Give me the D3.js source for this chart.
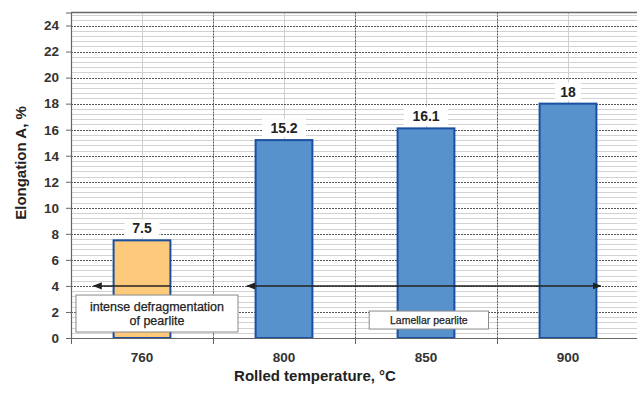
<!DOCTYPE html>
<html><head><meta charset="utf-8">
<script src="https://cdn.jsdelivr.net/npm/d3@7"></script>
<style>
html,body{margin:0;padding:0;background:#fff;}
svg{display:block;font-family:"Liberation Sans",Arial,sans-serif;}
</style></head>
<body><svg id="c" width="637" height="397"></svg>
<script>
const categories = ["760","800","850","900"];
const values = [7.5, 15.2, 16.1, 18];
const barColors = ["#FDC97A","#5792CD","#5792CD","#5792CD"];
const yTicks = [0,2,4,6,8,10,12,14,16,18,20,22,24];
const yTitle = "Elongation A, %";
const xTitle = "Rolled temperature, °C";
const annotationTexts = [["intense defragmentation","of pearlite"],["Lamellar pearlite"]];
const arrowLevel = 4;

const svg = d3.select("#c");
const L = 71, R = 639, T = 12.5, B = 338;
const x = d3.scaleBand().domain(categories).range([L, R]).paddingInner(0).paddingOuter(0);
const xi = d3.scaleLinear().domain([-0.5, categories.length - 0.5]).range([L, R]);
const y = d3.scaleLinear().domain([0, 25]).range([B, T]);
const barW = x.bandwidth() * 0.4;

// minor horizontal grid
const minor = d3.range(0, 25.01, 0.4).filter(v => Math.abs(v/2 - Math.round(v/2)) > 1e-6);
svg.append("g").selectAll("line").data(minor).join("line")
  .attr("x1", L).attr("x2", R).attr("y1", d => Math.round(y(d)) + 0.5).attr("y2", d => Math.round(y(d)) + 0.5)
  .attr("stroke", "#d2d2d2").attr("stroke-width", 1);
// minor vertical grid (band centers)
svg.append("g").selectAll("line").data(categories).join("line")
  .attr("x1", d => Math.round(x(d) + x.bandwidth()/2) + 0.5).attr("x2", d => Math.round(x(d) + x.bandwidth()/2) + 0.5)
  .attr("y1", T).attr("y2", B).attr("stroke", "#cfcfcf").attr("stroke-width", 1);
// major horizontal grid
svg.append("g").selectAll("line").data(yTicks.slice(1)).join("line")
  .attr("x1", L).attr("x2", R).attr("y1", d => Math.round(y(d)) + 0.5).attr("y2", d => Math.round(y(d)) + 0.5)
  .attr("stroke", "#555").attr("stroke-width", 1).attr("stroke-dasharray", "2,1");
// major vertical grid
svg.append("g").selectAll("line").data(categories.slice(1)).join("line")
  .attr("x1", d => Math.round(x(d)) + 0.5).attr("x2", d => Math.round(x(d)) + 0.5)
  .attr("y1", T).attr("y2", B).attr("stroke", "#555").attr("stroke-width", 1).attr("stroke-dasharray", "2,1");
// top border
svg.append("line").attr("x1", L).attr("x2", R).attr("y1", T).attr("y2", T).attr("stroke", "#666").attr("stroke-width", 1.5);

// bars
svg.append("g").selectAll("rect").data(values).join("rect")
  .attr("x", (d,i) => x(categories[i]) + (x.bandwidth() - barW)/2)
  .attr("width", barW)
  .attr("y", d => y(d)).attr("height", d => y(0) - y(d))
  .attr("fill", (d,i) => barColors[i]).attr("stroke", "#1B4F9F").attr("stroke-width", 2);

// axes
const yAxis = svg.append("g").attr("transform", `translate(${L},0)`)
  .call(d3.axisLeft(y).tickValues(yTicks).tickSize(5).tickPadding(7));
yAxis.select(".domain").attr("stroke", "#666").attr("stroke-width", 1.2);
yAxis.selectAll(".tick line").attr("stroke", "#666");
yAxis.selectAll("text").attr("font-size", 13.5).attr("font-weight", "bold").attr("fill", "#333")
  .attr("font-family", "Liberation Sans, Arial, sans-serif");

const xAxis = svg.append("g").attr("transform", `translate(0,${B})`)
  .call(d3.axisBottom(x).tickSize(0).tickPadding(14));
xAxis.select(".domain").attr("stroke", "#666").attr("stroke-width", 1.2);
xAxis.selectAll("text").attr("font-size", 13.5).attr("font-weight", "bold").attr("fill", "#333")
  .attr("font-family", "Liberation Sans, Arial, sans-serif");
// x ticks at band boundaries
svg.append("g").selectAll("line").data(categories).join("line")
  .attr("x1", d => Math.round(x(d)) + 0.5).attr("x2", d => Math.round(x(d)) + 0.5)
  .attr("y1", B).attr("y2", B + 6).attr("stroke", "#666");

// value labels with white background
const vl = svg.append("g").selectAll("g").data(values).join("g")
  .attr("transform", (d,i) => `translate(${x(categories[i]) + x.bandwidth()/2},${y(d) - 12})`);
vl.append("rect").attr("x", d => -(String(d).length * 4.5 + 4)).attr("width", d => String(d).length * 9 + 8)
  .attr("y", -9).attr("height", 18).attr("fill", "#fff");
vl.append("text").text(d => d).attr("text-anchor", "middle").attr("dy", "0.36em")
  .attr("font-size", 14).attr("font-weight", "bold").attr("fill", "#222");

// arrows
const defs = svg.append("defs");
defs.append("marker").attr("id", "ah").attr("viewBox", "0 0 10 10").attr("refX", 9).attr("refY", 5)
  .attr("markerWidth", 6).attr("markerHeight", 6).attr("orient", "auto-start-reverse")
  .append("path").attr("d", "M0,1 L10,5 L0,9 z").attr("fill", "#222");
const arrows = [
  {from: 0.2, to: -0.34, both: false},
  {from: 0.74, to: 3.23, both: true}
];
svg.append("g").selectAll("line").data(arrows).join("line")
  .attr("x1", d => xi(d.from)).attr("x2", d => xi(d.to))
  .attr("y1", y(arrowLevel)).attr("y2", y(arrowLevel))
  .attr("stroke", "#222").attr("stroke-width", 1.5)
  .attr("marker-end", "url(#ah)")
  .attr("marker-start", d => d.both ? "url(#ah)" : null);

// annotation boxes
const boxes = [
  {x0: -0.465, x1: 0.676, y0: 3.3, y1: 0.46, lines: annotationTexts[0], fs: 12.5},
  {x0: 1.6, x1: 2.44, y0: 2.07, y1: 0.69, lines: annotationTexts[1], fs: 10.5}
];
const bg = svg.append("g").selectAll("g").data(boxes).join("g");
bg.append("rect").attr("x", d => xi(d.x0)).attr("width", d => xi(d.x1) - xi(d.x0))
  .attr("y", d => y(d.y0)).attr("height", d => y(d.y1) - y(d.y0))
  .attr("fill", "#fff").attr("stroke", "#8a8a8a").attr("stroke-width", 1);
bg.each(function(d) {
  const g = d3.select(this);
  const cx = (xi(d.x0) + xi(d.x1)) / 2;
  const cy = (y(d.y0) + y(d.y1)) / 2;
  const lh = d.fs * 1.15;
  d.lines.forEach((t, k) => {
    g.append("text").text(t).attr("x", cx)
      .attr("y", cy + (k - (d.lines.length - 1)/2) * lh).attr("dy", "0.35em")
      .attr("text-anchor", "middle").attr("font-size", d.fs).attr("fill", "#222")
      .attr("stroke", "#222").attr("stroke-width", 0.25);
  });
});

// titles
svg.append("text").text(yTitle).attr("transform", "translate(21,163) rotate(-90)")
  .attr("text-anchor", "middle").attr("dy", "0.35em").attr("font-size", 15).attr("font-weight", "bold").attr("fill", "#222");
svg.append("text").text(xTitle).attr("x", 315).attr("y", 381)
  .attr("text-anchor", "middle").attr("font-size", 15).attr("font-weight", "bold").attr("fill", "#222");
</script></body></html>
